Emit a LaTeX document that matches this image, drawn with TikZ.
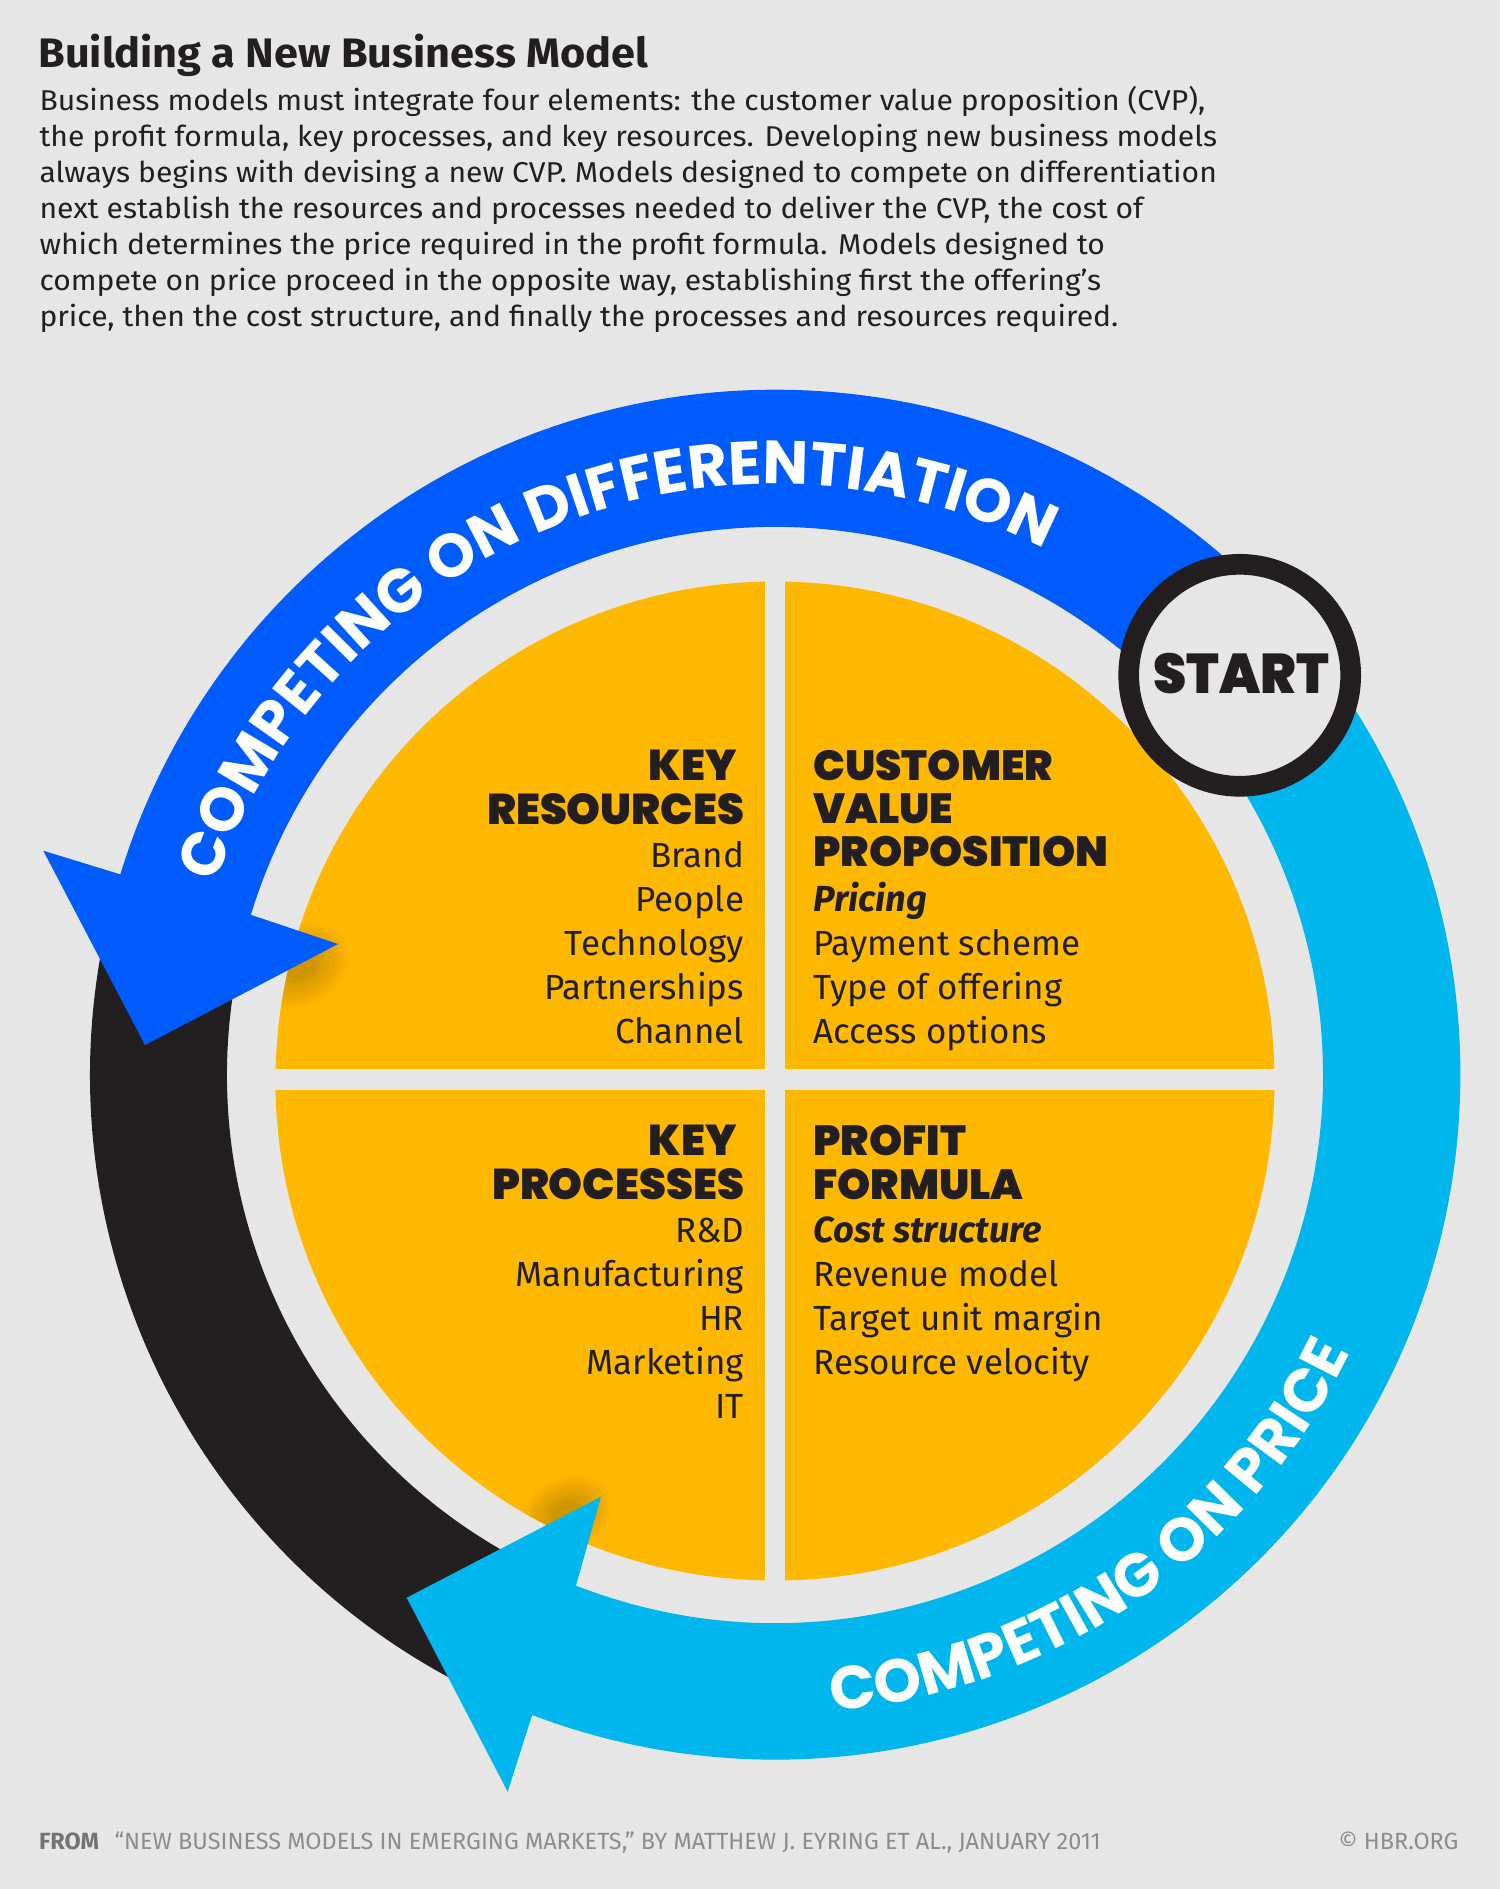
\documentclass[tikz,border=0pt]{standalone}
\usepackage{fontspec}
\usetikzlibrary{decorations.text}
\setmainfont{Fira Sans}
\newfontfamily\introfont{Fira Sans}[FakeStretch=1.05]
\newfontfamily\titlefont{Fira Sans Bold}[FakeStretch=1.05]
\newfontfamily\heavyfont{Poppins Black}
\newfontfamily\startfont{Poppins Black}[FakeStretch=0.95]
\newfontfamily\ringfont{Poppins}[BoldFont=Poppins Bold]
\definecolor{bgcolor}{HTML}{E6E6E6}
\definecolor{inkcolor}{HTML}{231F20}
\definecolor{discolor}{HTML}{FFB800}
\definecolor{diffcolor}{HTML}{005CFF}
\definecolor{pricecolor}{HTML}{00B6ED}
\newcommand{\leaditem}[1]{{\fontsize{27.2}{33}\selectfont\bfseries\itshape #1}}
\tikzset{every picture/.style={line width=0.75pt}}
\tikzset{
  bodytext/.style={anchor=base west,inner sep=0pt,text=inkcolor,align=left,font=\introfont\fontsize{21.5}{27}\selectfont},
  headleft/.style={anchor=base east,inner sep=0pt,text=inkcolor,align=right,font=\heavyfont\fontsize{32.3}{32.4}\selectfont},
  headright/.style={anchor=base west,inner sep=0pt,text=inkcolor,align=left,font=\heavyfont\fontsize{31.6}{32.4}\selectfont},
  itemleft/.style={anchor=base east,inner sep=0pt,text=inkcolor,align=right,font=\fontsize{26.2}{33}\selectfont},
  itemright/.style={anchor=base west,inner sep=0pt,text=inkcolor,align=left,font=\fontsize{26.2}{33}\selectfont},
  foottext/.style={anchor=base west,inner sep=0pt,text=black!45,font=\fontsize{17.6}{20}\selectfont},
}

\begin{document}
\begin{tikzpicture}[x=0.75pt,y=0.75pt,yscale=-1,xscale=1]
%Shape: Rectangle
\fill[bgcolor] (0,0) rectangle (1500,1889);
\useasboundingbox (0,0) rectangle (1500,1889);

%Shape: Disc
\fill[discolor] (775,1081) circle (499.5);
%Shape: Shadows under the arrow heads
\begin{scope}
\clip (775,1081) circle (499.5);
\foreach \r in {0.3,0.4,...,1} {
  \fill[black,opacity=0.025,rotate around={-27.6:(300,966)}] (300,966) ellipse ({52*\r} and {40*\r});
  \fill[black,opacity=0.025,rotate around={-27.6:(566,1514)}] (566,1514) ellipse ({48*\r} and {36*\r});
}
\end{scope}
%Shape: Gaps of the disc
\fill[bgcolor] (765,560) rectangle (785,1600);
\fill[bgcolor] (260,1069) rectangle (1290,1090);

%Shape: Black arc
\fill[inkcolor] (105,932.6) arc (-168:-245:685) -- (543.4,1571.7) arc (-245:-168:548) -- cycle;
%Shape: Blue arrow
\fill[diffcolor] (1294.7,628) arc (-40.7:-163:685) -- (43.3,850.7) -- (145,1045) -- (338,944) -- (250.9,914.8) arc (-163:-40.7:548) -- cycle;
%Shape: Cyan arrow
\fill[pricecolor] (1294.7,628) arc (-40.7:110.8:685) -- (507.7,1791.7) -- (406.7,1597.7) -- (601,1496.7) -- (576,1585.6) arc (111.3:-40.7:548) -- cycle;

% Text along the arcs
\path[decorate,decoration={text along path,text align=center,
  text={|\ringfont\bfseries\fontsize{45.7}{46}\selectfont\color{white}|COMPETING ON DIFFERENTIATION}}]
  (775,1075) ++(-172:591) arc (-172:-52:591);
\path[decorate,decoration={text along path,text align=center,
  text={|\ringfont\bfseries\fontsize{45.5}{46}\selectfont\color{white}|COMPETING ON PRICE}}]
  (775,1075) ++(95:639) arc (95:15.6:639);

%Shape: Start ring
\draw[inkcolor,line width=15.5pt,fill=bgcolor] (1239.7,675.3) circle (111);
% Text Node
\draw (1241,693) node (start) [anchor=base][inner sep=0pt][text=inkcolor,font=\startfont\fontsize{42}{44}\selectfont] {START};

% Text Node
\draw (38,67.5) node (title) [anchor=base west][inner sep=0pt][text=inkcolor,font=\titlefont\fontsize{30.9}{32}\selectfont] {Building a New Business Model};
% Text Node
\draw (39,326.7) node (intro) [bodytext] {Business models must integrate four elements: the customer value proposition (CVP),\\
the profit formula, key processes, and key resources. Developing new business models\\
always begins with devising a new CVP. Models designed to compete on differentiation\\
next establish the resources and processes needed to deliver the CVP, the cost of\\
which determines the price required in the profit formula. Models designed to\\
compete on price proceed in the opposite way, establishing first the offering’s\\
price, then the cost structure, and finally the processes and resources required.};

% Text Node
\draw (744.5,824) node (resourceshead) [headleft] {KEY\hspace*{5.4pt}\\RESOURCES};
\draw (744.5,1043.3) node (resourceslist) [itemleft] {Brand\\People\\Technology\\Partnerships\\Channel};
% Text Node
\draw (813,866.7) node (cvphead) [headright] {CUSTOMER\\VALUE\\PROPOSITION};
\draw (813,1043.3) node (cvplist) [itemright] {\leaditem{Pricing}\\Payment scheme\\Type of offering\\Access options};
% Text Node
\draw (744.5,1199) node (processeshead) [headleft] {KEY\hspace*{5.4pt}\\PROCESSES};
\draw (744.5,1418) node (processeslist) [itemleft] {R\&D\\Manufacturing\\HR\\Marketing\\IT};
% Text Node
\draw (813,1199) node (profithead) [headright] {PROFIT\\FORMULA};
\draw (813,1374) node (profitlist) [itemright] {\leaditem{Cost structure}\\Revenue model\\Target unit margin\\Resource velocity};

% Text Node
\draw (38.5,1849) node (from) [foottext,text=black!55] {\textbf{FROM}};
\draw (114,1849) node (source) [foottext] {“NEW BUSINESS MODELS IN EMERGING MARKETS,” BY MATTHEW J. EYRING ET AL., JANUARY 2011};
\draw (1459,1849) node (hbr) [foottext,anchor=base east] {© HBR.ORG};
\end{tikzpicture}
\end{document}
